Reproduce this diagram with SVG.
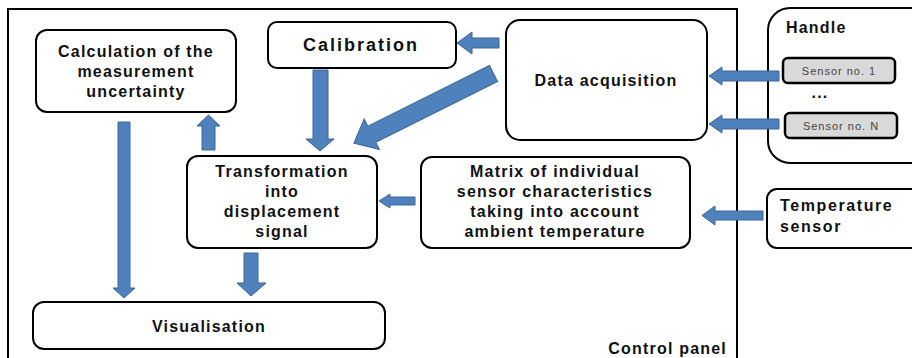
<svg xmlns="http://www.w3.org/2000/svg" width="912" height="358" viewBox="0 0 912 358">
<style>
.box{fill:#fff;stroke:#000;stroke-width:2}
.sensor{fill:#d9d9d9;stroke:#000;stroke-width:2.5}
.arr{fill:#4f81bd;stroke:#3a679c;stroke-width:1}
.t{font-family:"Liberation Sans",Arial,sans-serif;font-weight:bold;font-size:16px;letter-spacing:1.2px;fill:#111;text-anchor:middle}
.tl{text-anchor:start}
.s{font-family:"Liberation Sans",Arial,sans-serif;font-size:11px;letter-spacing:1px;fill:#444;text-anchor:middle}
</style>
<rect width="912" height="358" fill="#fff"/>
<g id="control-panel">
<rect x="8" y="9" width="729" height="360" fill="none" stroke="#000" stroke-width="2"/>
<text class="t" x="727" y="354" style="text-anchor:end">Control panel</text>
</g>
<g id="calculation">
<rect class="box" x="36" y="30" width="200" height="82" rx="11"/>
<text class="t" x="136" y="57">Calculation of the</text>
<text class="t" x="136" y="77">measurement</text>
<text class="t" x="136" y="97">uncertainty</text>
</g>
<g id="calibration">
<rect class="box" x="268" y="22" width="188" height="46" rx="9"/>
<text class="t" x="361" y="51" style="font-size:18px;letter-spacing:2px">Calibration</text>
</g>
<g id="data-acquisition">
<rect class="box" x="506" y="20" width="201" height="120" rx="14"/>
<text class="t" x="606" y="86">Data acquisition</text>
</g>
<g id="transformation">
<rect class="box" x="187" y="156" width="190" height="92" rx="11"/>
<text class="t" x="282" y="177">Transformation</text>
<text class="t" x="282" y="197">into</text>
<text class="t" x="282" y="217">displacement</text>
<text class="t" x="282" y="237">signal</text>
</g>
<g id="matrix">
<rect class="box" x="421" y="157" width="269" height="91" rx="11"/>
<text class="t" x="555" y="177">Matrix of individual</text>
<text class="t" x="555" y="197">sensor characteristics</text>
<text class="t" x="555" y="217">taking into account</text>
<text class="t" x="555" y="237">ambient temperature</text>
</g>
<g id="visualisation">
<rect class="box" x="33" y="302" width="352" height="47" rx="11"/>
<text class="t" x="209" y="332">Visualisation</text>
</g>
<g id="handle">
<rect class="box" x="768" y="8" width="170" height="155" rx="22"/>
<text class="t tl" x="786" y="33">Handle</text>
<text class="t" x="820" y="98">...</text>
</g>
<g id="sensor-1">
<rect class="sensor" x="783" y="58" width="112" height="25" rx="5"/>
<text class="s" x="839" y="75">Sensor no. 1</text>
</g>
<g id="sensor-n">
<rect class="sensor" x="785" y="113" width="112" height="25" rx="5"/>
<text class="s" x="841" y="130">Sensor no. N</text>
</g>
<g id="temperature-sensor">
<rect class="box" x="767" y="189" width="170" height="59" rx="10"/>
<text class="t tl" x="780" y="211" style="letter-spacing:1.6px">Temperature</text>
<text class="t tl" x="780" y="232" style="letter-spacing:1.6px">sensor</text>
</g>
<g id="connectors">
<!-- data acquisition -> calibration -->
<path class="arr" d="M499,38 H472 V32 L457,43 L472,54 V48 H499 Z"/>
<!-- data acquisition -> transformation (diagonal) -->
<path class="arr" transform="translate(493.5,73.5) rotate(153.5)" d="M0,-9 H136 V-17 L156,0 L136,17 V9 H0 Z"/>
<!-- calibration -> transformation -->
<path class="arr" d="M313,70 H328 V139 H334 L320,151 L306,139 H313 Z"/>
<!-- transformation -> calculation -->
<path class="arr" d="M202,150 V126 H197 L208.5,115 L220,126 H215 V150 Z"/>
<!-- calculation -> visualisation -->
<path class="arr" d="M118,122 H130 V288 H135 L124,298 L113,288 H118 Z"/>
<!-- transformation -> visualisation -->
<path class="arr" d="M244,253 H258 V283 H266 L251,296 L237,283 H244 Z"/>
<!-- matrix -> transformation -->
<path class="arr" d="M415,197 H390 V194 L379,201 L390,208 V205 H415 Z"/>
<!-- sensor 1 -> data acquisition -->
<path class="arr" d="M779,71 H722 V67 L709,76 L722,85 V81 H779 Z"/>
<!-- sensor N -> data acquisition -->
<path class="arr" d="M779,119 H722 V115 L709,124 L722,133 V129 H779 Z"/>
<!-- temperature sensor -> matrix -->
<path class="arr" d="M763,211 H715 V206 L702,215.5 L715,225 V220 H763 Z"/>
</g>
</svg>
